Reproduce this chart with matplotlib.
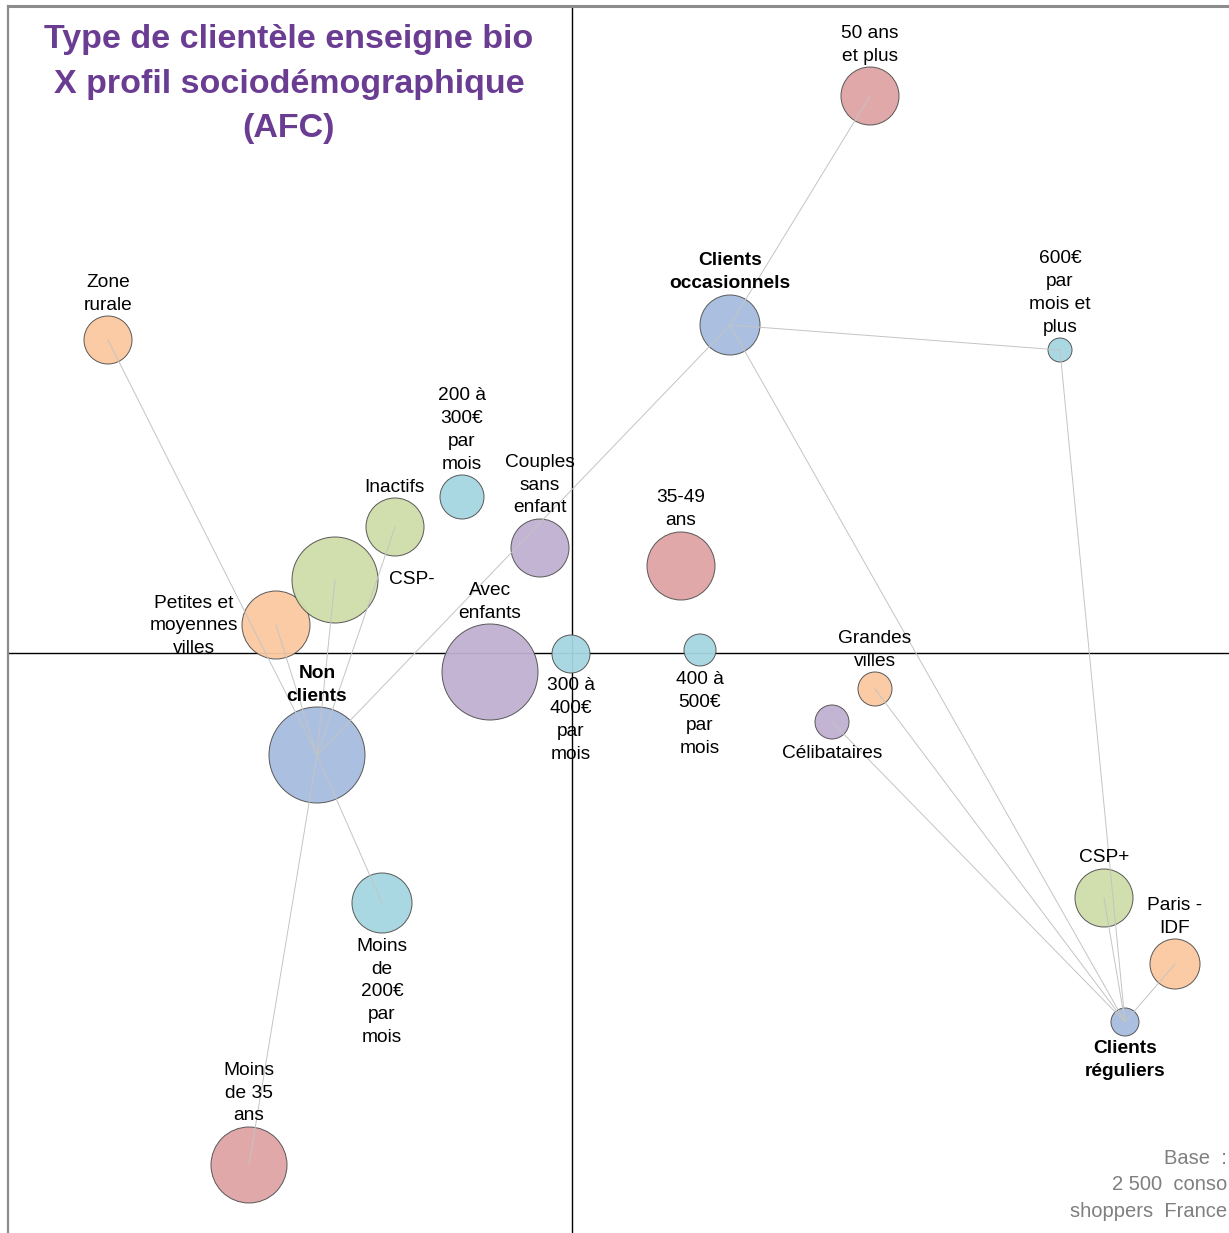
import matplotlib.pyplot as plt
from matplotlib.patches import Circle

plt.rcParams['font.family'] = ['Liberation Sans', 'DejaVu Sans']

# coordonnees AFC (axe 1, axe 2) et poids des modalites
noms = ["Non\nclients", "Clients\noccasionnels", "Clients\nréguliers",
        "50 ans\net plus", "35-49\nans", "Moins\nde 35\nans",
        "Zone\nrurale", "Petites et\nmoyennes\nvilles", "Grandes\nvilles", "Paris -\nIDF",
        "CSP+", "CSP-", "Inactifs",
        "Couples\nsans\nenfant", "Avec\nenfants", "Célibataires",
        "Moins\nde\n200€\npar\nmois", "200 à\n300€\npar\nmois", "300 à\n400€\npar\nmois",
        "400 à\n500€\npar\nmois", "600€\npar\nmois et\nplus"]
axe1 = [-2.55, 1.58, 5.53,
        2.98, 1.09, -3.23,
        -4.64, -2.96, 3.03, 6.03,
        5.32, -2.37, -1.77,
        -0.32, -0.82, 2.60,
        -1.90, -1.10, -0.01,
        1.28, 4.88]
axe2 = [-1.02, 3.28, -3.69,
        5.57, 0.87, -5.12,
        3.13, 0.28, -0.36, -3.11,
        -2.45, 0.73, 1.26,
        1.05, -0.19, -0.69,
        -2.50, 1.56, -0.01,
        0.03, 3.03]
poids = [0.48, 0.30, 0.14,
         0.29, 0.34, 0.38,
         0.24, 0.34, 0.17, 0.25,
         0.29, 0.43, 0.29,
         0.29, 0.48, 0.17,
         0.30, 0.22, 0.19,
         0.16, 0.12]
groupes = ["client"] * 3 + ["age"] * 3 + ["zone"] * 4 + ["csp"] * 3 + ["foyer"] * 3 + ["revenu"] * 5

# liens vers le type de clientele le plus proche
liens = [(0, 6), (0, 7), (0, 11), (0, 12), (0, 16), (0, 5), (0, 1),
         (1, 3), (1, 20), (1, 2),
         (2, 10), (2, 9), (2, 8), (2, 15), (2, 20)]

couleurs = {"client": "#a7bddf", "age": "#dfa3a5", "zone": "#fbc9a0",
            "csp": "#cfdda9", "foyer": "#c0b0d2", "revenu": "#a6d6e1"}

# decalage des etiquettes (pixels) et alignement
decal = [(0, 70), (0, 53), (0, -38),
         (0, 51), (0, 57), (0, 72),
         (0, 46), (-82, -1), (0, 39), (0, 47),
         (0, 40), (54, 0), (-1, 39),
         (0, 63), (0, 70), (0, -31),
         (0, -89), (0, 67), (0, -66),
         (0, -64), (0, 57)]

fig = plt.figure(figsize=(12.29, 12.33), dpi=100)
ax = fig.add_axes([8 / 1229, 0, 1221 / 1229, 1227 / 1233])
ax.set_xlim(-5.64, 6.57)
ax.set_ylim(-5.80, 6.47)
ax.set_aspect('equal')
ax.set_xticks([])
ax.set_yticks([])
for s in ['right', 'bottom']:
    ax.spines[s].set_visible(False)
ax.spines['top'].set_color('#8c8c8c')
ax.spines['top'].set_linewidth(2.2)
ax.spines['left'].set_color('#8c8c8c')
ax.spines['left'].set_linewidth(1.6)

ax.axhline(0, color='black', lw=1.0, zorder=1)
ax.axvline(0, color='black', lw=1.0, zorder=1)

for i in range(len(noms)):
    c = Circle((axe1[i], axe2[i]), poids[i], facecolor=couleurs[groupes[i]],
               edgecolor='#505050', lw=0.7, alpha=0.95, zorder=2)
    ax.add_patch(c)

for a, b in liens:
    ax.plot([axe1[a], axe1[b]], [axe2[a], axe2[b]], color='#c4c4c4', lw=0.7, zorder=3)

for i in range(len(noms)):
    dx, dy = decal[i]
    ha = 'left' if noms[i] == "CSP-" else 'center'
    ax.annotate(noms[i], (axe1[i], axe2[i]), xytext=(dx, dy), textcoords='offset pixels',
                ha=ha, va='center', multialignment='center', fontsize=13.8,
                fontweight='bold' if groupes[i] == "client" else 'normal',
                linespacing=1.46, color='black', zorder=4)

fig.text(289 / 1229, 1 - 84 / 1233, "Type de clientèle enseigne bio\nX profil sociodémographique\n(AFC)",
         ha='center', va='center', fontsize=24.5, fontweight='bold', color='#6a3d93',
         linespacing=1.55)
fig.text(1227 / 1229, 1 - 1185 / 1233, "Base  :\n2 500  conso\nshoppers  France",
         ha='right', va='center', fontsize=14.5, color='#7f7f7f', linespacing=1.5)

fig.savefig('out.png', dpi=100)
